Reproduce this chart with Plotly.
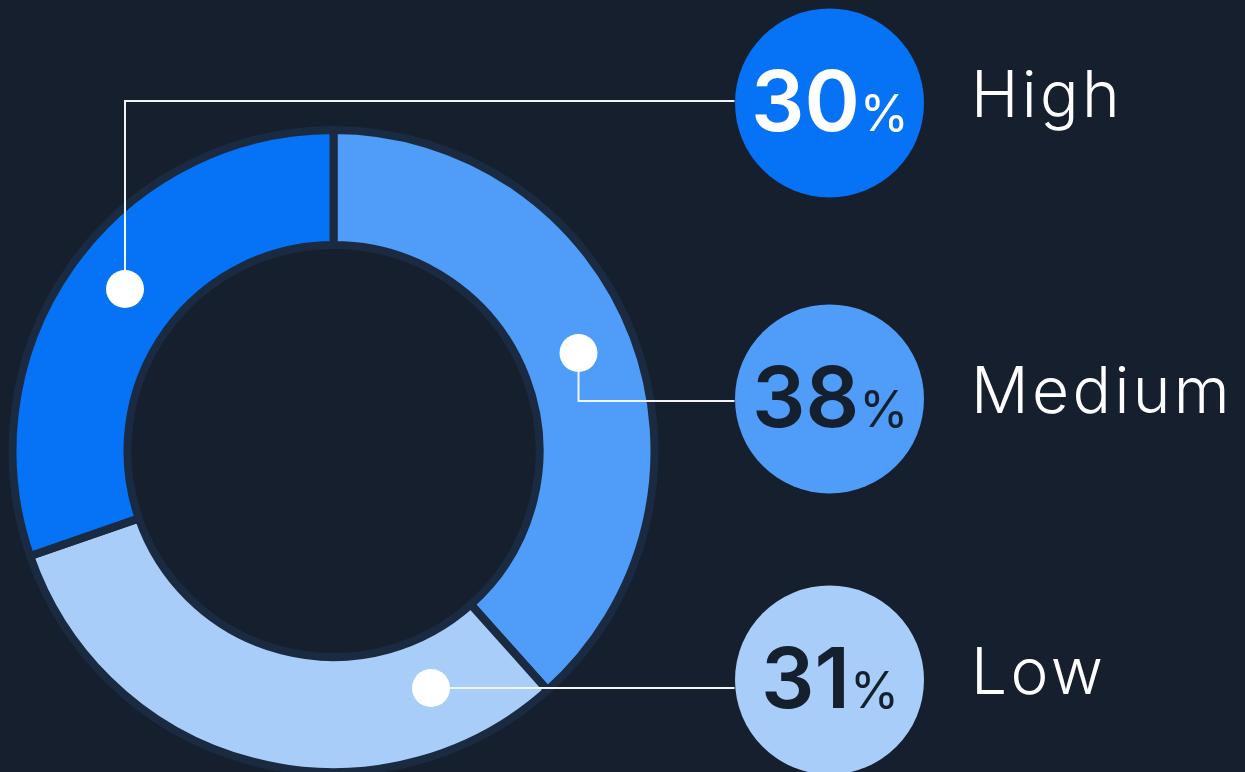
import plotly.graph_objects as go

# ---- data ----
categories = ["Medium", "Low", "High"]
values = [38, 31, 30]
colors = ["#4F9DF8", "#A9CDF9", "#0672F5"]
text_colors = ["#15202F", "#15202F", "#FFFFFF"]

# ---- layout constants (pixels) ----
W, H = 1245, 772
BG = "#151F2E"
EDGE = "#1A2A40"
CX, CY, R = 333.5, 451, 321
HOLE = 206 / 321

# right-side badge centres (y) per category and dots on the ring
badge_x = 829.5
badge_y = {"High": 103, "Medium": 399, "Low": 680}
dot_xy = {"High": (125, 289), "Medium": (578.5, 353), "Low": (431, 688)}

fig = go.Figure()

fig.add_trace(go.Pie(
    labels=categories, values=values, sort=False, direction="clockwise",
    rotation=0, hole=HOLE, textinfo="none", hoverinfo="label+value",
    marker=dict(colors=colors, line=dict(color=EDGE, width=8)),
    domain=dict(x=[max(0, (CX - R) / W), min(1, (CX + R) / W)],
                y=[max(0, (H - CY - R) / H), min(1, (H - CY + R) / H)]),
    showlegend=False,
))

# badges (big circles)
fig.add_trace(go.Scatter(
    x=[badge_x] * len(categories), y=[badge_y[c] for c in categories],
    mode="markers", marker=dict(size=189, color=colors, line=dict(width=0)),
    hoverinfo="skip", showlegend=False, cliponaxis=False,
))

shapes = []
LINE = dict(color="#F2F4F7", width=2)
# connector lines
hx, hy = dot_xy["High"]
shapes.append(dict(type="path", xref="x", yref="y", layer="above",
                   path=f"M {badge_x-95},{101} L {hx},{101} L {hx},{hy}", line=LINE))
mx, my = dot_xy["Medium"]
shapes.append(dict(type="path", xref="x", yref="y", layer="above",
                   path=f"M {mx},{my} L {mx},{401} L {badge_x-95},{401}", line=LINE))
lx, ly = dot_xy["Low"]
shapes.append(dict(type="path", xref="x", yref="y", layer="above",
                   path=f"M {lx},{ly} L {badge_x-95},{ly}", line=LINE))
# dots
for c in categories:
    x, y = dot_xy[c]
    shapes.append(dict(type="circle", xref="x", yref="y", layer="above",
                       x0=x - 19, x1=x + 19, y0=y - 19, y1=y + 19,
                       fillcolor="#FFFFFF", line=dict(width=0)))

annotations = []
for c, v, tc in zip(categories, values, text_colors):
    y = badge_y[c]
    annotations.append(dict(
        x=badge_x, y=y - 3, xref="x", yref="y", xanchor="center", yanchor="middle",
        showarrow=False,
        text=f"{v}<span style='font-size:50px;font-weight:400'>%</span>",
        font=dict(family="Inter", size=84, color=tc, weight=600),
    ))
    annotations.append(dict(
        x=969, y=y - 10, xref="x", yref="y", xanchor="left", yanchor="middle",
        showarrow=False, text=f"<span style='letter-spacing:3.4px'>{c}</span>",
        font=dict(family="Inter", size=64, color="#FFFFFF", weight=300),
    ))

fig.update_layout(
    width=W, height=H, margin=dict(l=0, r=0, t=0, b=0),
    paper_bgcolor=BG, plot_bgcolor=BG,
    xaxis=dict(range=[0, W], visible=False, domain=[0, 1], fixedrange=True),
    yaxis=dict(range=[H, 0], visible=False, domain=[0, 1], fixedrange=True),
    shapes=shapes, annotations=annotations,
)

fig.write_html("out.html")
